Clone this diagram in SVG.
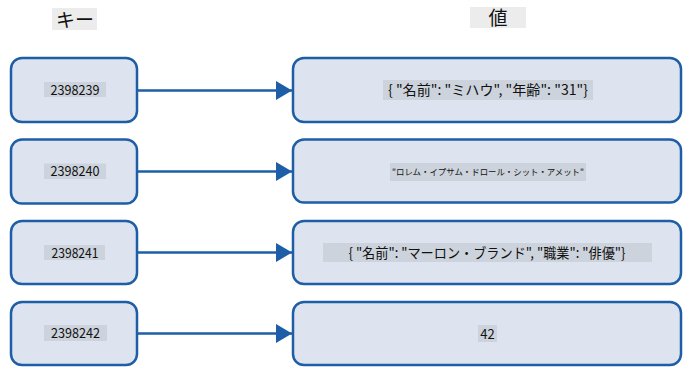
<svg xmlns="http://www.w3.org/2000/svg" width="698" height="382" viewBox="0 0 698 382">
<style>
.box{fill:#dde4ef;stroke:#1d5ea6;stroke-width:2.5}
.tbg{fill:#cdd3dc}
.lbg{fill:#ececec}
.t{font-family:"Noto Sans CJK JP","Noto Sans",sans-serif;fill:#111;text-anchor:middle}
.conn{stroke:#1d5ea6;stroke-width:2.5;fill:none}
</style>
<defs>
<marker id="ah" markerWidth="6.4" markerHeight="7.6" refX="6.4" refY="3.8" orient="auto" markerUnits="strokeWidth">
<path d="M0,0 L6.4,3.8 L0,7.6 Z" fill="#1d5ea6"/>
</marker>
</defs>
<rect width="698" height="382" fill="#ffffff"/>
<g id="header-key">
<rect class="lbg" x="52" y="8" width="45" height="22"/>
<text class="t" x="75" y="26.5" font-size="19">キー</text>
</g>
<g id="header-value">
<rect class="lbg" x="470" y="7" width="56" height="21"/>
<text class="t" x="498" y="25" font-size="19">値</text>
</g>
<g id="connectors">
<line class="conn" x1="137" y1="90.5" x2="292" y2="90.5" marker-end="url(#ah)"/>
<line class="conn" x1="137" y1="171.5" x2="292" y2="171.5" marker-end="url(#ah)"/>
<line class="conn" x1="137" y1="252.5" x2="292" y2="252.5" marker-end="url(#ah)"/>
<line class="conn" x1="137" y1="333.5" x2="292" y2="333.5" marker-end="url(#ah)"/>
</g>
<g id="key1">
<rect class="box" x="11" y="58" width="126" height="64" rx="11"/>
<rect class="tbg" x="44" y="82" width="62" height="15"/>
<text class="t" x="75" y="94.5" font-size="13.5" textLength="49" lengthAdjust="spacingAndGlyphs">2398239</text>
</g>
<g id="key2">
<rect class="box" x="11" y="139.5" width="126" height="64" rx="11"/>
<rect class="tbg" x="44" y="163.5" width="62" height="15.5"/>
<text class="t" x="75" y="176" font-size="13.5" textLength="49" lengthAdjust="spacingAndGlyphs">2398240</text>
</g>
<g id="key3">
<rect class="box" x="11" y="221" width="126" height="63" rx="11"/>
<rect class="tbg" x="44" y="245" width="61" height="15"/>
<text class="t" x="75" y="257.5" font-size="13.5" textLength="47" lengthAdjust="spacingAndGlyphs">2398241</text>
</g>
<g id="key4">
<rect class="box" x="11" y="302" width="126" height="63" rx="11"/>
<rect class="tbg" x="44" y="325" width="63" height="16"/>
<text class="t" x="75.5" y="338" font-size="13.5" textLength="49" lengthAdjust="spacingAndGlyphs">2398242</text>
</g>
<g id="value1">
<rect class="box" x="293" y="58" width="388" height="64" rx="11"/>
<rect class="tbg" x="383" y="80" width="210" height="20"/>
<text class="t" x="488" y="95" font-size="14" textLength="200" lengthAdjust="spacingAndGlyphs">{ "名前": "ミハウ", "年齢": "31"}</text>
</g>
<g id="value2">
<rect class="box" x="293" y="139.5" width="388" height="63" rx="11"/>
<rect class="tbg" x="390" y="163" width="196" height="18"/>
<text class="t" x="488" y="175" font-size="8.5" textLength="192" lengthAdjust="spacingAndGlyphs">"ロレム・イプサム・ドロール・シット・アメット"</text>
</g>
<g id="value3">
<rect class="box" x="293" y="221" width="388" height="63" rx="11"/>
<rect class="tbg" x="323" y="243" width="329" height="19"/>
<text class="t" x="487" y="257.5" font-size="14" textLength="277" lengthAdjust="spacingAndGlyphs">{ "名前": "マーロン・ブランド", "職業": "俳優"}</text>
</g>
<g id="value4">
<rect class="box" x="293" y="302" width="388" height="63" rx="11"/>
<rect class="tbg" x="478" y="325" width="19" height="17"/>
<text class="t" x="487.5" y="338.5" font-size="13">42</text>
</g>
</svg>
